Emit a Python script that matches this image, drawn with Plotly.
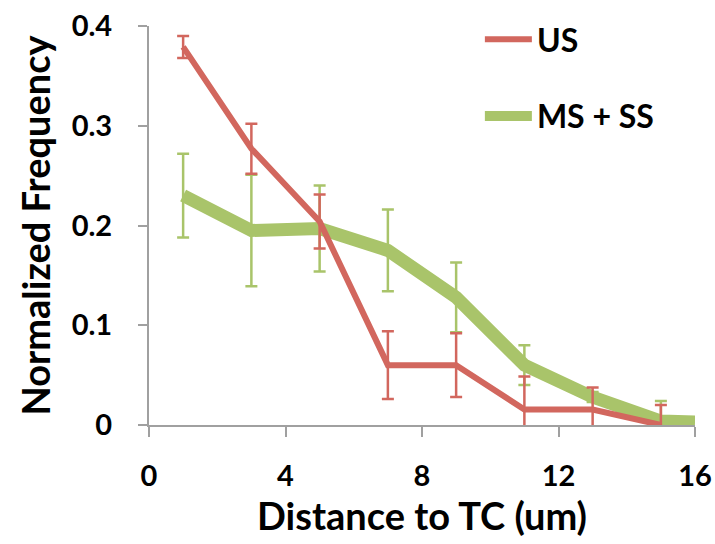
import plotly.graph_objects as go

# Data
x_us = [1, 3, 5, 7, 9, 11, 13, 15]
us = [0.379, 0.277, 0.204, 0.060, 0.060, 0.0155, 0.0155, 0.0]
us_err = [0.011, 0.025, 0.027, 0.034, 0.032, 0.033, 0.022, 0.020]

x_ms = [1, 3, 5, 7, 9, 11, 13, 15, 16]
ms = [0.230, 0.195, 0.197, 0.175, 0.128, 0.060, 0.028, 0.004, 0.003]
ms_err = [0.042, 0.056, 0.043, 0.041, 0.035, 0.020, 0.005, 0.020, 0.0]

x_ticks = [0, 4, 8, 12, 16]
y_ticks = [0, 0.1, 0.2, 0.3, 0.4]
y_tick_text = ["0", "0.1", "0.2", "0.3", "0.4"]

RED = "#D2675E"
GREEN = "#A9C46A"
AXIS = "#A0A0A0"
FONT = "Lato"

fig = go.Figure()
fig.add_trace(go.Scatter(
    x=x_ms, y=ms, name="MS + SS", mode="lines",
    line=dict(color=GREEN, width=13),
    error_y=dict(type="data", array=ms_err, color=GREEN, thickness=2.5, width=6),
    legendrank=2, legendgroup="ms",
))
fig.add_trace(go.Scatter(
    x=x_us, y=us, name="US", mode="lines",
    line=dict(color=RED, width=6),
    error_y=dict(type="data", array=us_err, color=RED, thickness=2.5, width=6),
    legendrank=1, legendgroup="us",
))

fig.update_layout(
    width=715, height=544,
    margin=dict(l=149, r=20, t=20, b=119),
    plot_bgcolor="white", paper_bgcolor="white",
    font=dict(family=FONT, color="black", size=28),
    showlegend=True,
    legend=dict(
        x=0.606, y=1.035, xanchor="left", yanchor="top",
        font=dict(family=FONT, size=32, color="black", weight="bold"),
        bgcolor="rgba(0,0,0,0)", itemwidth=47, tracegroupgap=32,
        traceorder="grouped",
    ),
    xaxis=dict(
        range=[0, 16], tickvals=x_ticks, ticktext=[str(v) for v in x_ticks],
        showline=True, linecolor=AXIS, linewidth=2,
        ticks="outside", ticklen=10, tickwidth=2, tickcolor=AXIS,
        showgrid=False, zeroline=False, automargin=False,
        tickfont=dict(family=FONT, size=29, weight="bold"),
        ticklabelstandoff=14,
        title=dict(text="Distance to TC (um)", standoff=8,
                   font=dict(family=FONT, size=38, weight="bold")),
    ),
    yaxis=dict(
        range=[0, 0.4], tickvals=y_ticks, ticktext=y_tick_text,
        showline=True, linecolor=AXIS, linewidth=2,
        ticks="outside", ticklen=9, tickwidth=2, tickcolor=AXIS,
        showgrid=False, zeroline=False, automargin=False,
        tickfont=dict(family=FONT, size=29, weight="bold"),
        ticklabelstandoff=20,
        title=dict(text="Normalized Frequency", standoff=9,
                   font=dict(family=FONT, size=38, weight="bold")),
    ),
)

fig.write_html("out.html")
